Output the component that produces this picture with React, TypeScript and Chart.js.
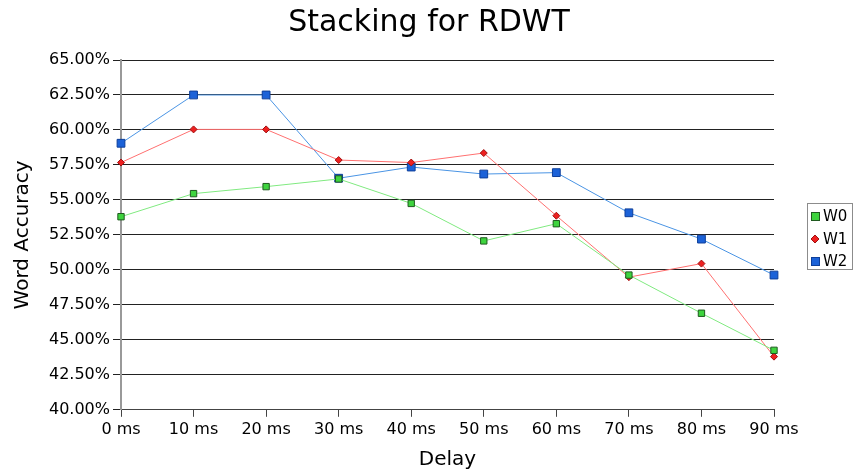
import React, { useEffect, useRef } from "react";
import { Chart, registerables } from "chart.js";

Chart.register(...registerables);

const categories = ["0 ms", "10 ms", "20 ms", "30 ms", "40 ms", "50 ms", "60 ms", "70 ms", "80 ms", "90 ms"];
const w0 = [53.8, 55.45, 55.95, 56.5, 54.75, 52.07, 53.3, 49.63, 46.9, 44.25];
const w1 = [57.67, 60.04, 60.04, 57.85, 57.67, 58.35, 53.87, 49.48, 50.45, 43.8];
const w2 = [59.05, 62.5, 62.5, 56.55, 57.35, 56.85, 56.95, 54.08, 52.2, 49.63];
const seriesNames = ["W0", "W1", "W2"];
const yTicks = [40, 42.5, 45, 47.5, 50, 52.5, 55, 57.5, 60, 62.5, 65];

const FONT = "'DejaVu Sans', sans-serif";

const legendPlugin = {
  id: "boxLegend",
  afterDraw(chart: any) {
    const ctx = chart.ctx;
    ctx.save();
    ctx.strokeStyle = "#8c8c8c";
    ctx.lineWidth = 1;
    ctx.strokeRect(807.5, 203.5, 45, 66);
    const rows = [216, 239, 261];
    chart.data.datasets.forEach((ds: any, i: number) => {
      const cy = rows[i];
      const cx = 815;
      ctx.fillStyle = ds.pointBackgroundColor;
      ctx.strokeStyle = ds.pointBorderColor;
      ctx.lineWidth = 1;
      if (ds.pointStyle === "rectRot") {
        ctx.beginPath();
        ctx.moveTo(cx, cy - 4);
        ctx.lineTo(cx + 4, cy);
        ctx.lineTo(cx, cy + 4);
        ctx.lineTo(cx - 4, cy);
        ctx.closePath();
        ctx.fill();
        ctx.stroke();
      } else {
        ctx.fillRect(cx - 4, cy - 4, 8, 8);
        ctx.strokeRect(cx - 3.5, cy - 3.5, 8, 8);
      }
      ctx.fillStyle = "#000";
      ctx.font = "15px " + FONT;
      ctx.textBaseline = "middle";
      ctx.textAlign = "left";
      ctx.fillText(ds.label, 823, cy + 1);
    });
    ctx.restore();
  },
};

export default function App() {
  const ref = useRef<HTMLCanvasElement>(null);
  useEffect(() => {
    if (!ref.current) return;
    const chart = new Chart(ref.current, {
      type: "line",
      data: {
        labels: categories,
        datasets: [
          {
            label: seriesNames[0],
            data: w0,
            borderColor: "#80ea80",
            borderWidth: 1,
            pointStyle: "rect",
            pointRadius: 4.5,
            pointBackgroundColor: "#3ed43e",
            pointBorderColor: "#1f5a1f",
            pointBorderWidth: 1,
          },
          {
            label: seriesNames[1],
            data: w1,
            borderColor: "#ff7070",
            borderWidth: 1,
            pointStyle: "rectRot",
            pointRadius: 3.5,
            pointBackgroundColor: "#ee2020",
            pointBorderColor: "#a01010",
            pointBorderWidth: 1,
          },
          {
            label: seriesNames[2],
            data: w2,
            borderColor: "#4a94e4",
            borderWidth: 1,
            pointStyle: "rect",
            pointRadius: 5.5,
            pointBackgroundColor: "#1c62d8",
            pointBorderColor: "#0e3f9a",
            pointBorderWidth: 1,
          },
        ],
      },
      options: {
        animation: false,
        responsive: true,
        maintainAspectRatio: false,
        layout: { padding: { left: 0, right: 0, top: 5, bottom: 3 } },
        plugins: {
          legend: { display: false },
          tooltip: { enabled: false },
          title: {
            display: true,
            text: "Stacking for RDWT",
            color: "#000",
            font: { family: FONT, size: 30, weight: "normal" },
            padding: { top: 0, bottom: 19 },
          },
        },
        scales: {
          x: {
            type: "category",
            offset: false,
            grid: { display: true, drawOnChartArea: false, tickLength: 7, color: "#444" },
            border: { display: true, color: "#444", width: 1 },
            ticks: {
              color: "#000",
              font: { family: FONT, size: 16 },
              padding: 3,
              maxRotation: 0,
              autoSkip: false,
            },
            title: {
              display: true,
              text: "Delay",
              color: "#000",
              font: { family: FONT, size: 20 },
              padding: { top: 6, bottom: 0 },
            },
          },
          y: {
            min: 40,
            max: 65,
            afterBuildTicks: (s: any) => {
              s.ticks = yTicks.map((v) => ({ value: v }));
            },
            afterFit: (s: any) => {
              s.width = 121;
            },
            grid: { color: "#222", lineWidth: 1, tickLength: 8 },
            border: { display: true, color: "#999", width: 2 },
            ticks: {
              color: "#000",
              font: { family: FONT, size: 16 },
              padding: 3,
              callback: (v: any) => Number(v).toFixed(2) + "%",
            },
            title: {
              display: true,
              text: "Word Accuracy",
              color: "#000",
              font: { family: FONT, size: 20 },
              padding: { top: 11, bottom: 0 },
            },
          },
          legendSpace: {
            type: "linear",
            position: "right",
            display: true,
            min: 0,
            max: 1,
            grid: { display: false, drawOnChartArea: false },
            border: { display: false },
            ticks: { display: false },
            afterFit: (s: any) => {
              s.width = 84;
            },
          },
        },
      },
      plugins: [legendPlugin],
    } as any);
    return () => chart.destroy();
  }, []);
  return (
    <div style={{ position: "fixed", left: 0, top: 0, width: 858, height: 475, background: "#fff" }}>
      <canvas ref={ref} />
    </div>
  );
}
